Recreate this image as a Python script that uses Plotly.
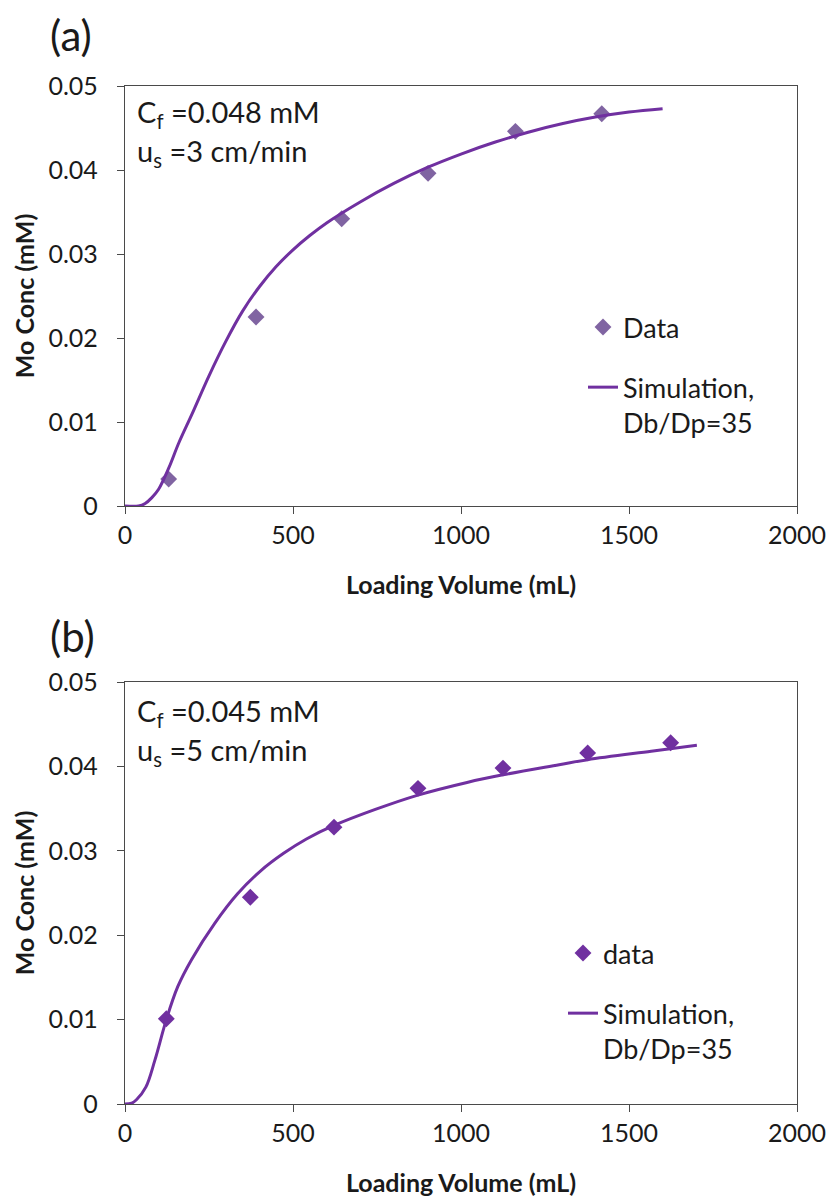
import plotly.graph_objects as go

# ---------------- data ----------------
# Panel (a)
a_data_x = [130, 390, 645, 902, 1162, 1419]
a_data_y = [0.0032, 0.0225, 0.0342, 0.0396, 0.0446, 0.0467]
a_sim_x = [0, 40, 60, 80, 100, 130, 160, 200, 250, 300, 350, 400, 450, 500,
           550, 600, 700, 800, 900, 1000, 1100, 1200, 1300, 1400, 1500, 1600]
a_sim_y = [0.0, 0.0, 0.0003, 0.001, 0.002, 0.0045, 0.0075, 0.011, 0.0155,
           0.0196, 0.0232, 0.0261, 0.0285, 0.0305, 0.0322, 0.0337, 0.0362,
           0.0384, 0.0403, 0.0419, 0.0433, 0.0445, 0.0455, 0.0463, 0.0469,
           0.0473]

# Panel (b)
b_data_x = [123, 373, 622, 872, 1125, 1377, 1624]
b_data_y = [0.0101, 0.0245, 0.0328, 0.0374, 0.0398, 0.0416, 0.0428]
b_sim_x = [0, 20, 34, 62, 89, 123, 157, 198, 267, 335, 403, 472, 540, 622,
           745, 872, 1018, 1125, 1292, 1377, 1566, 1702]
b_sim_y = [0.0, 0.0001, 0.0005, 0.002, 0.0052, 0.0100, 0.0139, 0.0171,
           0.0214, 0.0249, 0.0276, 0.0297, 0.0314, 0.0330, 0.0349, 0.0366,
           0.0381, 0.0390, 0.0402, 0.0408, 0.0418, 0.0425]

x_ticks = [0, 500, 1000, 1500, 2000]
y_ticks = [0, 0.01, 0.02, 0.03, 0.04, 0.05]
y_tick_text = ["0", "0.01", "0.02", "0.03", "0.04", "0.05"]

# ---------------- style ----------------
W, H = 830, 1199
ML, MR, MT, MB = 125, 33, 86, 95
FONT = "Lato"
TXT = "#1a1a1a"
AX = "#4a4a4a"
LINE_C = "#7030A0"
A_MARK = "#8064A2"
B_MARK = "#7030A0"


def xp(p):
    return (p - ML) / (W - ML - MR)


def yp(p):
    return (H - MB - p) / (H - MT - MB)


fig = go.Figure()

fig.add_trace(go.Scatter(x=a_data_x, y=a_data_y, mode="markers", name="Data",
                         marker=dict(symbol="diamond", size=13, color=A_MARK),
                         xaxis="x", yaxis="y", legend="legend", legendgroup="a1"))
fig.add_trace(go.Scatter(x=a_sim_x, y=a_sim_y, mode="lines",
                         name="Simulation,<br>Db/Dp=35",
                         line=dict(color=LINE_C, width=3, shape="spline", smoothing=1.0),
                         xaxis="x", yaxis="y", legend="legend", legendgroup="a2"))
fig.add_trace(go.Scatter(x=b_data_x, y=b_data_y, mode="markers", name="data",
                         marker=dict(symbol="diamond", size=13, color=B_MARK),
                         xaxis="x2", yaxis="y2", legend="legend2", legendgroup="b1"))
fig.add_trace(go.Scatter(x=b_sim_x, y=b_sim_y, mode="lines",
                         name="Simulation,<br>Db/Dp=35",
                         line=dict(color=LINE_C, width=3, shape="spline", smoothing=1.0),
                         xaxis="x2", yaxis="y2", legend="legend2", legendgroup="b2"))

ydom_a = [yp(506), yp(86)]
ydom_b = [yp(1104), yp(682)]

common_x = dict(range=[0, 2000], tickvals=x_ticks, ticks="outside", ticklen=7,
                tickcolor=AX, showline=True, linecolor=AX, linewidth=1.3,
                mirror=True, showgrid=False, zeroline=False, automargin=False,
                ticklabelstandoff=0,
                tickfont=dict(family=FONT, size=25, color=TXT), domain=[0, 1])
common_y = dict(range=[0, 0.05], tickvals=y_ticks, ticktext=y_tick_text,
                ticks="outside", ticklen=7, tickcolor=AX, showline=True,
                linecolor=AX, linewidth=1.3, mirror=True, showgrid=False,
                zeroline=False, automargin=False, ticklabelstandoff=14,
                tickfont=dict(family=FONT, size=25, color=TXT))

title_font = dict(family=FONT, size=25, color=TXT)

fig.update_layout(
    width=W, height=H,
    margin=dict(l=ML, r=MR, t=MT, b=MB, autoexpand=False),
    paper_bgcolor="white", plot_bgcolor="white",
    font=dict(family=FONT, color=TXT),
    xaxis=dict(**common_x, anchor="y",
               title=dict(text="<b>Loading Volume (mL)</b>", font=title_font, standoff=28)),
    yaxis=dict(**common_y, domain=ydom_a, anchor="x",
               title=dict(text="<b>Mo Conc (mM)</b>", font=title_font, standoff=6)),
    xaxis2=dict(**common_x, anchor="y2",
                title=dict(text="<b>Loading Volume (mL)</b>", font=title_font, standoff=28)),
    yaxis2=dict(**common_y, domain=ydom_b, anchor="x2",
                title=dict(text="<b>Mo Conc (mM)</b>", font=title_font, standoff=6)),
    legend=dict(x=xp(583), y=yp(303), xanchor="left", yanchor="top",
                bgcolor="rgba(0,0,0,0)", font=dict(family=FONT, size=27, color=TXT),
                tracegroupgap=22, valign="top", itemwidth=30),
    legend2=dict(x=xp(563), y=yp(929), xanchor="left", yanchor="top",
                 bgcolor="rgba(0,0,0,0)", font=dict(family=FONT, size=27, color=TXT),
                 tracegroupgap=22, valign="top", itemwidth=30),
    showlegend=True,
)

ann_font = dict(family=FONT, size=29, color=TXT)
annotations = [
    dict(text="(a)", x=xp(48), y=yp(35), xref="paper", yref="paper",
         xanchor="left", yanchor="middle", showarrow=False,
         font=dict(family=FONT, size=42, color=TXT)),
    dict(text="(b)", x=xp(48), y=yp(636), xref="paper", yref="paper",
         xanchor="left", yanchor="middle", showarrow=False,
         font=dict(family=FONT, size=42, color=TXT)),
    dict(text="C<sub>f</sub> =0.048 mM", x=xp(135), y=yp(113), xref="paper",
         yref="paper", xanchor="left", yanchor="middle", showarrow=False, font=ann_font),
    dict(text="u<sub>s</sub> =3 cm/min", x=xp(135), y=yp(152), xref="paper",
         yref="paper", xanchor="left", yanchor="middle", showarrow=False, font=ann_font),
    dict(text="C<sub>f</sub> =0.045 mM", x=xp(135), y=yp(712), xref="paper",
         yref="paper", xanchor="left", yanchor="middle", showarrow=False, font=ann_font),
    dict(text="u<sub>s</sub> =5 cm/min", x=xp(135), y=yp(751), xref="paper",
         yref="paper", xanchor="left", yanchor="middle", showarrow=False, font=ann_font),
]
fig.update_layout(annotations=annotations)

fig.write_html("out.html")
